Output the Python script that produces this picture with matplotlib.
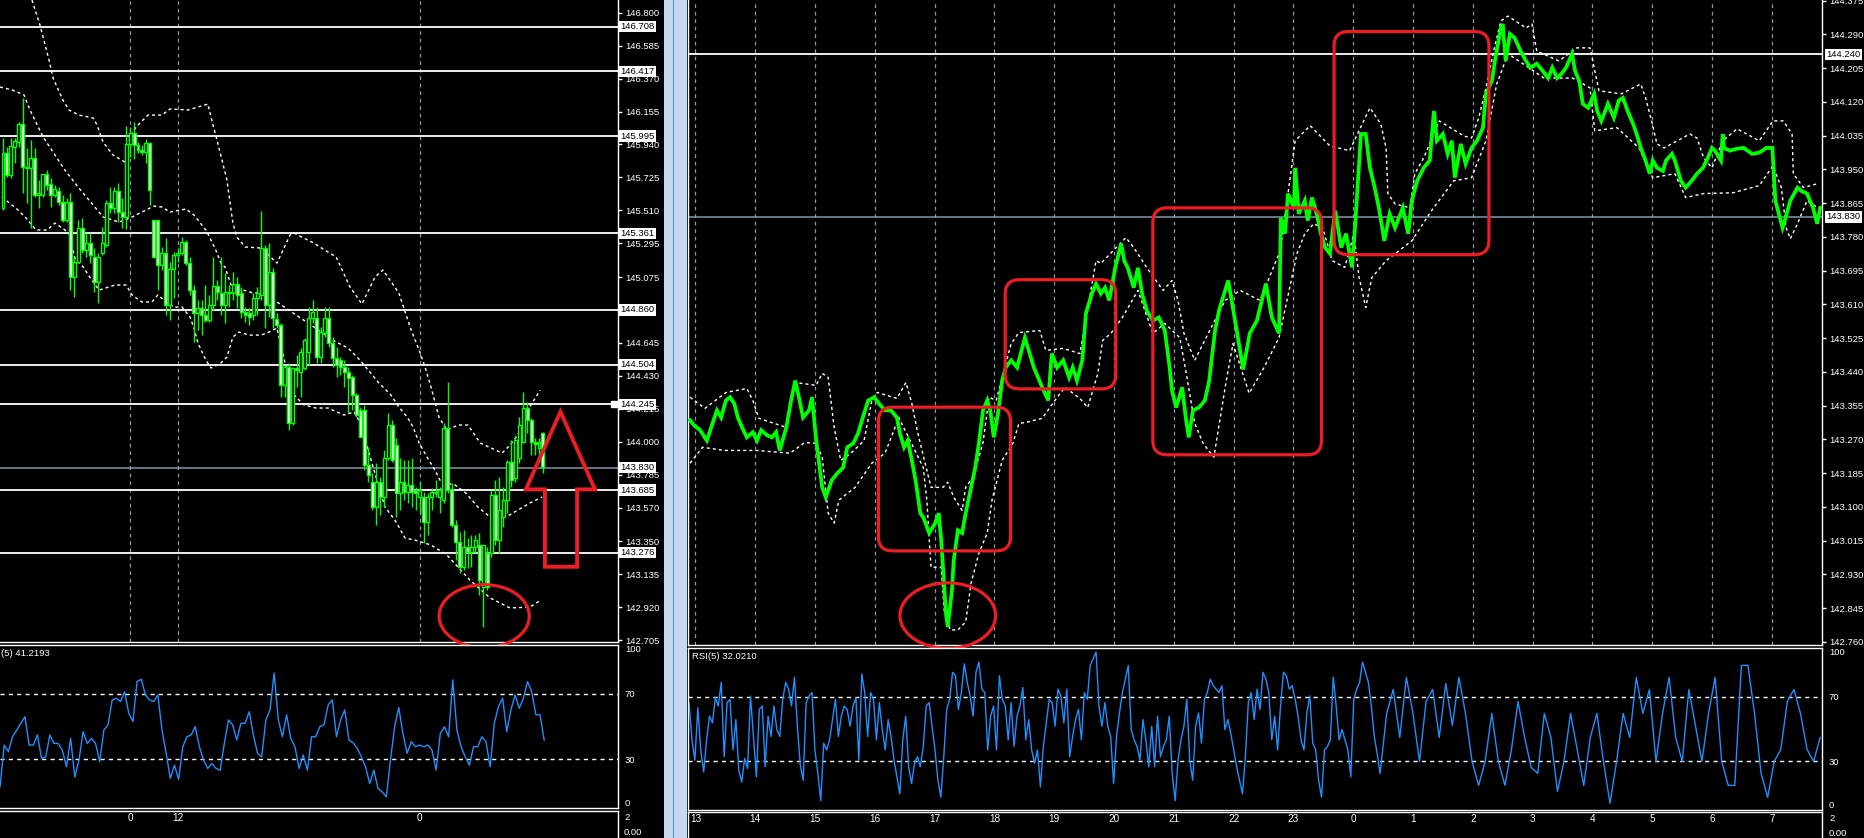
import numpy as np
import matplotlib
matplotlib.use("Agg")
import matplotlib.pyplot as plt
import matplotlib.transforms as mtrans
from matplotlib.patches import Ellipse, FancyBboxPatch, Polygon, Rectangle

plt.rcParams['font.family'] = ['Liberation Sans', 'DejaVu Sans']

# ===================== DATA =====================
# ---- left chart: hourly candles ----
lp_open = [145.525,145.884,145.741,145.924,145.956,146.074,145.793,145.786,145.852,145.610,
           145.610,145.747,145.682,145.610,145.636,145.565,145.447,145.565,145.075,145.173,
           145.395,145.251,145.297,145.206,145.042,145.232,145.284,145.558,145.525,145.636,
           145.499,145.467,145.943,146.015,145.937,145.904,145.891,145.950,145.447,145.447,
           145.153,145.232,144.892,145.127,145.219,145.232,145.303,145.166,144.990,144.840,
           144.873,144.827,144.794,144.892,145.016,144.971,144.892,144.977,144.971,145.029,
           144.971,144.847,144.840,144.827,144.938,144.958,145.264,144.892,145.108,144.801,
           144.762,144.370,144.488,144.122,144.481,144.455,144.481,144.585,144.807,144.807,
           144.553,144.710,144.807,144.644,144.546,144.533,144.488,144.455,144.422,144.305,
           144.207,144.207,143.848,143.737,143.574,143.737,143.639,143.894,144.109,143.978,
           143.665,143.737,143.672,143.717,143.685,143.639,143.639,143.476,143.639,143.672,
           143.639,143.619,144.089,143.691,143.456,143.345,143.182,143.313,143.280,143.313,
           143.326,143.052,143.274,143.274,143.652,143.358,143.509,143.619,143.868,143.763,
           143.894,143.998,144.220,144.142,143.998,143.959,144.057]
lp_high = [145.982,145.924,145.982,145.982,146.087,146.243,145.917,145.969,145.917,145.708,
           145.747,145.773,145.721,145.676,145.662,145.610,145.591,145.623,145.206,145.447,
           145.460,145.362,145.362,145.264,145.232,145.401,145.578,145.662,145.662,145.689,
           145.591,146.061,146.054,146.087,145.956,145.937,145.976,145.956,145.447,145.447,
           145.271,145.330,145.173,145.238,145.264,145.336,145.317,145.206,145.023,144.925,
           144.925,145.023,144.958,145.206,145.055,145.206,145.101,145.023,145.108,145.075,
           145.010,144.879,144.873,144.971,145.010,145.506,145.284,145.297,145.134,144.840,
           144.775,144.501,144.514,144.488,144.566,144.612,144.677,144.879,144.925,144.879,
           144.749,144.879,144.879,144.683,144.618,144.553,144.533,144.488,144.435,144.318,
           144.227,144.240,143.965,143.796,143.861,143.770,143.946,144.187,144.142,144.024,
           143.894,143.881,143.881,143.894,143.704,143.737,143.672,143.665,143.698,143.750,
           143.704,144.122,144.390,143.730,143.489,143.411,143.424,143.372,143.391,143.391,
           143.404,143.326,143.313,143.685,143.750,143.770,143.704,143.881,144.011,144.044,
           144.161,144.324,144.259,144.155,144.024,144.024,144.063]
lp_low = [145.512,145.728,145.721,145.819,145.924,145.623,145.558,145.395,145.597,145.525,
          145.597,145.643,145.532,145.597,145.545,145.434,145.434,144.990,144.944,145.166,
          145.232,145.206,145.166,144.977,144.905,145.219,145.271,145.493,145.493,145.434,
          145.395,145.388,145.858,145.845,145.884,145.871,145.819,145.545,145.199,144.990,
          145.121,144.827,144.794,144.938,145.173,145.219,145.153,144.958,144.651,144.729,
          144.696,144.781,144.781,144.860,144.925,144.827,144.775,144.879,144.925,144.873,
          144.807,144.781,144.762,144.794,144.827,144.925,144.742,144.814,144.742,144.742,
          144.292,144.292,144.076,144.109,144.357,144.292,144.468,144.501,144.775,144.514,
          144.514,144.683,144.618,144.488,144.422,144.435,144.357,144.187,144.207,144.161,
          144.031,143.815,143.737,143.554,143.456,143.522,143.574,143.881,143.868,143.509,
          143.554,143.619,143.600,143.574,143.554,143.535,143.339,143.391,143.554,143.639,
          143.535,143.600,143.665,143.443,143.228,143.143,143.163,143.176,143.182,143.274,
          142.999,142.791,143.032,143.248,143.326,143.274,143.443,143.535,143.704,143.737,
          143.861,143.992,144.057,143.913,143.913,143.900,143.796]
lp_close = [145.884,145.741,145.930,145.963,146.074,145.793,145.786,145.852,145.610,145.623,
            145.747,145.676,145.610,145.649,145.565,145.447,145.565,145.075,145.173,145.395,
            145.251,145.297,145.219,145.042,145.206,145.297,145.558,145.525,145.636,145.499,
            145.467,145.943,146.015,145.937,145.904,145.891,145.950,145.643,145.206,145.153,
            145.232,144.892,145.127,145.219,145.232,145.303,145.166,144.990,144.840,144.873,
            144.827,144.794,144.892,145.016,144.977,144.892,144.977,144.971,145.029,144.958,
            144.847,144.827,144.814,144.938,144.971,145.264,144.892,145.108,144.807,144.762,
            144.370,144.488,144.122,144.481,144.468,144.585,144.664,144.807,144.847,144.553,
            144.716,144.807,144.644,144.546,144.501,144.488,144.455,144.416,144.305,144.174,
            144.031,143.848,143.783,143.574,143.737,143.639,143.894,144.109,143.881,143.665,
            143.737,143.672,143.717,143.672,143.665,143.685,143.476,143.639,143.672,143.665,
            143.685,144.089,143.685,143.456,143.345,143.182,143.313,143.280,143.313,143.358,
            143.097,143.326,143.052,143.652,143.358,143.554,143.619,143.868,143.750,144.011,
            144.109,144.220,144.142,143.998,143.985,143.998,143.835]

# envelope lines (bar index, price)
lp_upper_x = [7.3,9.3,11.6,12.6,15.1,16.6,19.1,22.7,23.7,25.2,27.7,30.7,32.0,33.5,36.5,40.0,42.1,46.6,51.6,
              52.9,53.9,56.4,57.9,58.9,61.0,65.0,69.0,72.3,73.3,77.8,83.9,87.4,90.4,93.7,95.7,99.7,
              102.8,104.8,106.3,107.8,109.8,111.8,114.6,117.1,120.2,125.7,127.7,129.7,131.7,135.3]
lp_upper = [146.883,146.720,146.491,146.374,146.230,146.165,146.132,146.113,146.067,145.956,145.871,
            145.826,145.989,146.054,146.132,146.132,146.172,146.165,146.204,146.067,145.969,145.708,
            145.428,145.336,145.271,145.264,145.166,145.349,145.362,145.303,145.206,145.010,144.899,
            145.075,145.121,144.971,144.729,144.599,144.488,144.357,144.161,144.076,144.109,144.109,
            143.992,143.926,143.978,144.044,144.187,144.337]
lp_mid_x = [-0.76,2.3,5.3,6.8,10.1,13.1,15.6,19.1,22.7,25.2,29.2,32.0,35.0,38.0,40.0,42.1,46.1,48.1,51.1,
            53.4,54.9,55.9,57.9,60.5,63.0,65.0,69.0,76.8,83.9,86.9,89.9,92.4,94.7,97.7,99.7,101.8,
            103.3,104.8,106.8,108.8,110.3,113.9,116.6,119.6,122.7,126.7,129.7,132.7,135.8]
lp_mid = [146.315,146.296,146.263,146.165,145.989,145.871,145.773,145.656,145.545,145.467,145.434,
          145.460,145.499,145.538,145.532,145.499,145.519,145.480,145.382,145.264,145.166,145.140,
          144.990,144.990,144.971,144.971,144.912,144.775,144.651,144.612,144.533,144.455,144.383,
          144.305,144.227,144.161,144.096,143.992,143.900,143.815,143.737,143.717,143.665,143.574,
          143.509,143.509,143.554,143.600,143.639]
lp_lower_x = [-0.25,1.3,3.8,5.8,8.3,11.1,13.1,15.6,16.6,18.1,20.2,22.7,24.2,28.2,31.0,32.5,35.0,37.5,
              39.0,41.1,43.1,45.1,47.1,48.1,49.1,51.1,52.4,54.9,56.4,57.9,59.4,62.0,65.0,67.0,69.0,
              72.8,75.8,78.8,81.9,85.9,88.4,89.9,94.7,96.2,98.7,101.3,103.8,107.8,111.8,117.6,
              122.7,127.7,132.7,135.5]
lp_lower = [145.597,145.565,145.512,145.460,145.382,145.382,145.427,145.382,145.362,145.199,145.140,
            145.042,144.990,145.023,145.023,144.958,144.912,144.912,144.958,144.912,144.879,144.879,
            144.814,144.742,144.644,144.533,144.481,144.514,144.553,144.683,144.716,144.696,144.696,
            144.716,144.742,144.318,144.240,144.220,144.220,144.174,144.194,144.129,143.704,143.574,
            143.489,143.371,143.358,143.326,143.261,143.097,142.980,142.915,142.921,142.967]

lp_levels = [146.708, 146.417, 145.995, 145.361, 144.860, 144.504, 144.245, 143.685, 143.276]
lp_grey_level = 143.830
lp_ticks = [146.800,146.585,146.370,146.155,145.940,145.725,145.510,145.295,145.075,144.860,
            144.645,144.430,144.215,144.000,143.785,143.570,143.350,143.135,142.920,142.705]
lp_time_pos = [32, 44, 105]
lp_time_lbl = ['0', '12', '0']

lp_rsi = [13,38.6,34.5,43.7,47.8,52,56,38.6,38.6,44.8,30.4,31.4,44.8,39.6,39.6,35.5,25.3,42.7,19,29.4,
          46.8,39.6,42.7,39.6,28.4,47.8,51,66.3,67.3,65.3,71.4,58.1,53,77.6,79,69.4,66.3,65.3,69.4,47.8,
          33.5,18.1,26.3,17.5,37.6,43.7,44.8,49.9,37.6,29.4,24.3,27.3,24.3,23.2,39.6,54,51,41.7,52,52,
          59.1,44.8,33.5,31.4,54,60.2,82.7,54,43.7,57.2,42.7,37.6,24.3,32.5,23.2,43.7,43.7,49.9,51,63.2,
          66.3,43.7,54,60.2,41.7,40,36.6,31.4,25.3,15,23.2,12,9.9,6.8,29.4,49.9,61.6,45.8,33.5,40.7,
          37.6,38.6,37.6,38.6,35.5,23.2,45.8,49.9,43.7,78.6,47.8,37.6,31.4,26.3,37.6,37.6,43.7,40.7,
          25.3,52,62.2,67.3,46.8,60.2,69.4,61.2,67.3,77.6,71.4,57.2,57.2,41.7]
lp_rsi_text = '(5) 41.2193'

# ---- right chart: price path (hours from the "13" mark, price) ----
rp_t = [-0.09,-0.02,0.08,0.19,0.26,0.36,0.43,0.51,0.58,0.65,0.71,0.78,0.86,0.96,1.03,1.10,1.20,1.28,1.35,
        1.41,1.52,1.60,1.67,1.73,1.80,1.90,1.95,2.02,2.12,2.18,2.28,2.37,2.47,2.54,2.64,2.72,2.82,2.89,
        2.99,3.07,3.17,3.27,3.37,3.42,3.49,3.55,3.62,3.69,3.76,3.81,3.91,4.01,4.07,4.11,4.14,4.19,4.22,
        4.29,4.32,4.39,4.46,4.52,4.61,4.68,4.74,4.81,4.88,4.93,4.99,5.06,5.13,5.19,5.28,5.38,5.51,5.66,
        5.80,5.90,5.96,6.05,6.15,6.25,6.31,6.38,6.47,6.53,6.63,6.70,6.78,6.85,6.92,7.02,7.12,7.17,7.23,
        7.33,7.40,7.47,7.55,7.65,7.75,7.85,7.93,7.97,8.04,8.14,8.20,8.25,8.32,8.42,8.52,8.59,8.69,8.76,
        8.91,9.06,9.16,9.27,9.39,9.54,9.64,9.76,9.79,9.86,9.91,10.01,10.03,10.09,10.19,10.24,10.31,
        10.39,10.46,10.53,10.61,10.70,10.80,10.88,10.98,11.03,11.13,11.21,11.28,11.36,11.43,11.52,
        11.61,11.70,11.83,11.92,11.98,12.07,12.18,12.28,12.35,12.40,12.50,12.58,12.65,12.70,12.80,
        12.88,12.98,13.07,13.17,13.22,13.32,13.37,13.47,13.50,13.55,13.62,13.70,13.80,13.89,13.96,
        14.07,14.17,14.26,14.33,14.41,14.48,14.56,14.66,14.71,14.78,14.84,14.93,15.03,15.08,15.15,
        15.26,15.36,15.44,15.51,15.59,15.68,15.74,15.81,15.89,15.96,16.01,16.08,16.18,16.23,16.33,
        16.38,16.48,16.56,16.66,16.75,16.85,16.93,17.00,17.05,17.15,17.18,17.20,17.30,17.42,17.53,
        17.67,17.79,17.91,18.01,18.06,18.18,18.24,18.31,18.43,18.49,18.59,18.69,18.76,18.81]
rp_price = [143.318,143.305,143.293,143.267,143.298,143.343,143.325,143.368,143.376,143.360,143.325,
            143.300,143.275,143.288,143.267,143.293,143.280,143.275,143.288,143.242,143.300,143.368,
            143.418,143.376,143.325,143.343,143.376,143.267,143.149,143.124,143.167,143.184,143.199,
            143.250,143.260,143.285,143.335,143.368,143.376,143.360,143.343,143.343,143.325,143.285,
            143.250,143.267,143.217,143.159,143.084,143.074,143.034,143.059,143.084,143.016,142.948,
            142.832,142.797,142.890,142.966,143.041,143.034,143.084,143.149,143.199,143.260,143.343,
            143.368,143.343,143.275,143.335,143.418,143.451,143.469,143.451,143.526,143.451,143.401,
            143.368,143.486,143.451,143.469,143.426,143.451,143.418,143.469,143.587,143.637,143.662,
            143.637,143.652,143.620,143.702,143.763,143.720,143.702,143.652,143.702,143.637,143.594,
            143.569,143.577,143.544,143.451,143.393,143.350,143.401,143.325,143.275,143.343,143.350,
            143.368,143.416,143.544,143.597,143.670,143.537,143.446,143.537,143.569,143.662,143.577,
            143.537,143.828,143.788,143.889,143.853,143.954,143.838,143.871,143.821,143.879,143.838,
            143.788,143.753,143.738,143.846,143.753,143.788,143.703,143.803,144.039,144.039,143.954,
            143.904,143.853,143.770,143.838,143.803,143.853,143.788,143.871,143.921,143.954,143.972,
            144.097,144.022,144.039,143.989,144.022,143.929,144.014,143.964,144.004,144.022,144.055,
            144.140,144.173,144.223,144.306,144.316,144.223,144.291,144.281,144.248,144.223,144.206,
            144.216,144.198,144.180,144.206,144.180,144.190,144.206,144.241,144.198,144.173,144.115,
            144.105,144.140,144.097,144.072,144.115,144.080,144.123,144.130,144.097,144.065,144.039,
            144.004,143.972,143.939,143.972,143.954,143.946,143.972,143.989,143.972,143.921,143.904,
            143.921,143.939,143.954,143.979,144.004,143.997,143.972,144.039,144.004,143.997,144.002,
            144.004,143.989,143.992,144.004,144.004,143.871,143.803,143.833,143.871,143.904,143.896,
            143.889,143.853,143.813,143.853]

rp_upper_t = [-0.09,0.16,0.51,0.86,0.96,1.06,1.52,1.67,2.02,2.12,2.22,2.32,2.43,2.60,2.82,2.95,3.04,
              3.37,3.52,3.62,3.72,3.94,4.14,4.22,4.32,4.46,4.52,4.64,4.81,4.91,5.03,5.28,5.41,5.76,
              5.86,6.15,6.43,6.70,6.78,7.20,7.33,7.55,7.82,7.97,8.07,8.17,8.35,8.60,8.86,9.11,9.44,
              9.78,10.03,10.28,10.61,10.94,11.28,11.46,11.55,11.58,11.70,11.95,12.03,12.18,12.44,
              12.85,12.98,13.10,13.22,13.35,13.47,13.59,13.89,13.99,14.07,14.44,14.74,14.96,15.03,
              15.11,15.48,15.81,15.89,15.99,16.08,16.20,16.63,16.75,16.86,17.00,17.18,17.42,17.79,
              18.02,18.19,18.34,18.36,18.53,18.77]
rp_upper = [143.376,143.348,143.388,143.398,143.368,143.323,143.300,143.413,143.406,143.436,143.426,
            143.300,143.217,143.235,143.267,143.368,143.388,143.373,143.413,143.360,143.285,143.149,
            143.149,143.162,143.124,143.091,143.149,143.174,143.262,143.376,143.368,143.511,143.539,
            143.544,143.494,143.499,143.486,143.720,143.713,143.778,143.753,143.702,143.645,143.670,
            143.620,143.537,143.469,143.544,143.620,143.645,143.620,143.745,144.022,144.060,144.009,
            143.997,144.105,144.065,144.004,143.889,143.863,143.853,143.939,143.979,144.072,144.034,
            144.029,144.080,144.155,144.248,144.324,144.336,144.306,144.316,144.248,144.223,144.256,
            144.256,144.206,144.148,144.140,144.165,144.130,144.072,144.014,144.004,144.039,144.029,
            143.979,143.954,144.022,144.052,144.022,144.072,144.072,144.039,143.939,143.904,143.914]
rp_lower_t = [-0.09,0.12,0.48,1.03,1.58,1.83,2.02,2.12,2.22,2.32,2.40,2.67,2.95,3.17,3.30,3.40,3.59,
              3.81,3.87,3.94,4.11,4.16,4.26,4.39,4.52,4.61,4.74,4.88,4.96,5.13,5.31,5.41,5.54,5.80,
              6.05,6.18,6.43,6.56,6.73,6.81,6.95,7.14,7.40,7.65,7.85,8.10,8.22,8.35,8.49,8.67,8.87,
              8.99,9.26,9.51,9.76,10.06,10.19,10.34,10.49,10.65,10.86,11.01,11.10,11.21,11.31,11.55,
              11.98,12.31,12.68,12.98,13.22,13.40,13.59,13.77,14.19,14.67,14.96,15.04,15.41,15.78,
              16.01,16.38,16.56,16.86,17.35,17.79,18.02,18.16,18.24,18.31,18.43,18.59,18.77]
rp_lower = [143.210,143.250,143.242,143.242,143.235,143.262,143.260,143.225,143.084,143.059,143.117,
            143.149,143.210,143.235,143.285,143.325,143.267,143.199,143.117,142.948,142.948,142.840,
            142.790,142.790,142.810,142.908,142.983,143.034,143.117,143.217,143.260,143.310,143.313,
            143.323,143.376,143.401,143.373,143.350,143.436,143.519,143.537,143.577,143.645,143.537,
            143.562,143.526,143.426,143.310,143.260,143.225,143.411,143.511,143.386,143.451,143.526,
            143.738,143.788,143.813,143.803,143.720,143.703,143.788,143.677,143.602,143.677,143.720,
            143.770,143.846,143.921,143.929,144.022,144.165,144.241,144.223,144.180,144.180,144.155,
            144.047,144.055,144.004,143.929,143.939,143.879,143.889,143.891,143.909,143.959,143.904,
            143.803,143.775,143.813,143.871,143.853]

rp_levels = [144.240]
rp_grey_level = 143.830
rp_ticks = [142.760,142.845,142.930,143.015,143.100,143.185,143.270,143.355,143.440,143.525,143.610,
            143.695,143.780,143.865,143.950,144.035,144.120,144.205,144.290,144.375]
rp_time_lbl = ['13','14','15','16','17','18','19','20','21','22','23','0','1','2','3','4','5','6','7']

rp_rsi_a = [66.3,43.3,30.8,63.1,37.1,23.5,43.3,57.9,53.8,69.4,64.2,78.8,32.9,66.3,68.3,37.1,55.8,24.6,17.3,
            31.9,25.6,70.4,45.4,20.4,62.1,64.2,26.7,57.9,45.4,64.2,49.6,45.4,68.3,78.8,74.6,64.2,81.9,
            51.7,27.7,18.3,66.3,70.4,72.5,37.1,22.5,5.8,41.3,37.1,43.3,55.8,68.3,45.4,57.9,64.2,62.1,
            51.7,64.2,69.4,30.8,84.0,72.5,45.4,72.5,68.3,43.3,66.3,49.6,37.1,55.8,45.4,30.8,20.4,10.0,
            43.3,57.9,26.7,16.3,28.8,32.9,26.7,39.2,64.2,66.3,51.7,37.1,18.3,7.9,32.9,62.1,68.3,85.0,
            82.9,62.1,72.5,90.2,78.8,70.4,57.9,85.0,91.3,74.6,72.5,37.1,57.9,64.2,37.1,82.9,68.3,64.2,
            43.3,66.3,39.2,57.9,64.2,75.6,43.3,55.8,37.1,28.8,37.1,14.2,39.2,53.8,68.3,66.3,51.7,74.6,
            70.4,53.8,74.6,32.9,45.4,55.8,62.1,43.3,72.5,68.3,89.2,93.3,97.5,64.2,51.7,66.3,51.7,45.4,
            16.3,45.4,60.0,72.5,80.8,89.2,49.6,43.3,39.2,30.8,55.8,43.3,26.7,51.7,26.7,57.9,32.9,39.2,
            43.3,57.9,22.5,5.8,30.8,43.3,51.7,68.3,30.8,18.3,51.7,60.0,41.3,68.3,72.5,80.8,76.7,74.6,
            72.5,76.7,49.6,55.8,47.5,37.1,26.7,18.3,10.0,32.9,66.3,72.5,55.8,74.6,62.1,85.0,80.8,72.5,
            43.3,57.9,37.1,64.2,85.0,82.9,74.6,76.7,68.3,57.9,43.3,37.1,60.0,70.4,41.3,37.1,18.3,7.9,
            37.1,39.2,43.3,81.9,64.2,43.3,49.6,43.3,37.1,20.4,68.3,74.6,78.8,91.3,85.0,78.8,64.2,45.4,
            35.0,22.5]
rp_rsi_b = [59.6,74.4,44.8,81.9,59.6,30.0,67.0,74.4,44.8,78.1,52.2,81.9,59.6,30.0,15.2,30.0,59.6,30.0,
            15.2,37.4,67.0,44.8,26.3,22.6,59.6,44.8,11.5,30.0,59.6,37.4,15.2,44.8,59.6,30.0,4.1,30.0,
            59.6,44.8,81.9,59.6,74.4,30.0,59.6,81.9,44.8,30.0,74.4,52.2,30.0,59.6,81.9,30.0,15.2,15.2,
            89.3,89.3,59.6,22.6,7.8,30.0,37.4,67.0,74.4,59.6,37.4,30.0,44.8]
rp_rsi_text = 'RSI(5) 32.0210'

# ===================== STYLE =====================
W, H = 1865, 838
GREEN = '#00ff00'
BLUE = '#1e90ff'
RED = '#ee1c24'
GRID = '#8c96a0'
GREYLINE = '#8796a8'
FS = 6.8

fig = plt.figure(figsize=(W / 100, H / 100), dpi=100, facecolor='black')


def add_ax(x0, y0, x1, y1):
    ax = fig.add_axes([x0 / W, 1 - y1 / H, (x1 - x0) / W, (y1 - y0) / H])
    ax.set_facecolor('black')
    for s in ax.spines.values():
        s.set_color('white')
        s.set_linewidth(1)
    ax.tick_params(colors='white', labelcolor='white', labelsize=FS, length=3, width=1, pad=2)
    ax.set_xticks([])
    return ax


def price_axis(ax, ticks, boxed):
    ax.yaxis.tick_right()
    ax.set_yticks(ticks)
    # tick values that are covered by a boxed level label get no separate text
    ax.set_yticklabels(['' if any(abs(v - b) < 1e-6 for b in boxed) else f'{v:.3f}' for v in ticks])
    ax.spines['left'].set_visible(False)
    ax.spines['top'].set_visible(False)


def level_box(ax, y, grey=False):
    ax.axhline(y, color=GREYLINE if grey else 'white', lw=1.3 if not grey else 1.1, zorder=2)
    tr = mtrans.blended_transform_factory(ax.transAxes, ax.transData)
    ax.text(1.004, y, f'{y:.3f}', transform=tr, color='black', fontsize=FS, va='center', ha='left',
            clip_on=False, zorder=10,
            bbox=dict(boxstyle='square,pad=0.12', fc='white', ec='none'))


def rsi_axis(ax):
    ax.set_ylim(0, 100)
    ax.yaxis.tick_right()
    ax.set_yticks([0, 30, 70, 100])
    ax.set_yticklabels(['0', '30', '70', '100'])
    ax.tick_params(axis='y', length=0, pad=5)
    labs = ax.get_yticklabels()
    labs[0].set_va('bottom')
    labs[-1].set_va('top')
    for lv in (30, 70):
        ax.axhline(lv, color='white', lw=1, ls=(0, (3, 3)))


# ===================== LEFT CHART =====================
axL = add_ax(0, 0, 618, 642)
axL.set_xlim(-0.756, 154.9)
axL.set_ylim(142.693, 146.883)
price_axis(axL, lp_ticks, lp_levels + [lp_grey_level])
for xp in lp_time_pos:
    axL.axvline(xp, color=GRID, lw=0.9, ls=(0, (3, 3)), zorder=1)

for lv in lp_levels:
    level_box(axL, lv)
level_box(axL, lp_grey_level, grey=True)
trL = mtrans.blended_transform_factory(axL.transAxes, axL.transData)
axL.plot([0.993], [144.245], marker='s', ms=4.5, color='white', transform=trL, clip_on=False, zorder=5)

for bx, by in ((lp_upper_x, lp_upper), (lp_mid_x, lp_mid), (lp_lower_x, lp_lower)):
    axL.plot(bx, by, color='white', lw=1, ls=(0, (2.2, 2.2)), zorder=3)

o = np.array(lp_open); c = np.array(lp_close)
hi = np.array(lp_high); lo = np.array(lp_low)
xb = np.arange(len(o))
axL.vlines(xb, lo, hi, color=GREEN, lw=1, zorder=4)
bull = c >= o
axL.bar(xb, np.maximum(np.abs(c - o), 0.004), bottom=np.minimum(o, c), width=0.75,
        color=np.where(bull, 'black', 'white'), edgecolor=GREEN, linewidth=1, zorder=5)

# annotations (left)
axL.add_patch(Ellipse((121.2, 142.862), 22.7, 0.411, fill=False, ec=RED, lw=2.3, clip_on=False, zorder=8))
axL.add_patch(Polygon([(140.4, 144.196), (131.7, 143.689), (136.5, 143.689), (136.5, 143.184),
                       (144.6, 143.184), (144.6, 143.689), (149.1, 143.689)], closed=True,
                      fill=False, ec=RED, lw=2.8, joinstyle='miter', zorder=8))

# left RSI
axLr = add_ax(0, 645, 618, 808)
axLr.set_xlim(-0.756, 154.9)
rsi_axis(axLr)
axLr.spines['left'].set_visible(False)
axLr.plot(np.linspace(-0.75, 136.3, len(lp_rsi)), lp_rsi, color=BLUE, lw=1)
axLr.text(1 / 618, 1 - 4 / 163, lp_rsi_text, transform=axLr.transAxes, color='white',
          fontsize=FS, ha='left', va='top')

# left bottom strip
axLb = add_ax(0, 811, 618, 860)
axLb.set_xlim(-0.756, 154.9)
axLb.set_yticks([])
axLb.spines['left'].set_visible(False)
axLb.spines['bottom'].set_visible(False)
for xp, lb in zip(lp_time_pos, lp_time_lbl):
    axLb.text(xp, 1 - 7 / 49, lb, transform=mtrans.blended_transform_factory(axLb.transData, axLb.transAxes),
              color='white', fontsize=FS + 0.4, ha='center', va='center')
fig.text(624 / W, 1 - 817 / H, '2', color='white', fontsize=FS, va='center')
fig.text(624 / W, 1 - 832 / H, '0.00', color='white', fontsize=FS, va='center')

# splitter between the two chart windows
fig.patches.append(Rectangle((664 / W, 0), 23 / W, 1, transform=fig.transFigure, fc='#c6d9ee', ec='none'))
fig.patches.append(Rectangle((672.5 / W, 0), 1.6 / W, 1, transform=fig.transFigure, fc='#3f93cf', ec='none'))

# ===================== RIGHT CHART =====================
axR = add_ax(688, 0, 1822, 645)
axR.set_xlim(-0.124, 18.84)
axR.set_ylim(142.752, 144.3765)
price_axis(axR, rp_ticks, rp_levels + [rp_grey_level])
axR.spines['left'].set_visible(True)
for k in range(len(rp_time_lbl)):
    axR.axvline(k, color=GRID, lw=0.9, ls=(0, (3, 3)), zorder=1)
for lv in rp_levels:
    level_box(axR, lv)
level_box(axR, rp_grey_level, grey=True)

axR.plot(rp_upper_t, rp_upper, color='white', lw=1, ls=(0, (2.2, 2.2)), zorder=3)
axR.plot(rp_lower_t, rp_lower, color='white', lw=1, ls=(0, (2.2, 2.2)), zorder=3)
axR.plot(rp_t, rp_price, color=GREEN, lw=2.7, zorder=4, solid_joinstyle='miter')


def rbox(ax, x0, x1, y0, y1):
    ax.add_patch(FancyBboxPatch((x0, y0), x1 - x0, y1 - y0,
                                boxstyle='round,pad=0,rounding_size=0.24',
                                mutation_aspect=59.8 / 397.6,
                                fill=False, ec=RED, lw=2.3, zorder=8, clip_on=False))


rbox(axR, 3.06, 5.27, 142.989, 143.351)
rbox(axR, 5.18, 7.03, 143.397, 143.672)
rbox(axR, 7.65, 10.47, 143.231, 143.853)
rbox(axR, 10.68, 13.27, 143.735, 144.297)
axR.add_patch(Ellipse((4.22, 142.826), 1.60, 0.165, fill=False, ec=RED, lw=2.3, clip_on=False, zorder=8))

# right RSI
axRr = add_ax(688, 648, 1822, 810)
axRr.set_xlim(-0.124, 18.84)
rsi_axis(axRr)
ta = np.linspace(-0.107, 11.45, len(rp_rsi_a))
tb = np.linspace(11.45, 18.81, len(rp_rsi_b) + 1)[1:]
axRr.plot(np.concatenate([ta, tb]), rp_rsi_a + rp_rsi_b, color=BLUE, lw=1)
axRr.text(4 / 1134, 1 - 4 / 162, rp_rsi_text, transform=axRr.transAxes, color='white',
          fontsize=FS, ha='left', va='top')

# right bottom strip
axRb = add_ax(688, 812, 1822, 860)
axRb.set_xlim(-0.124, 18.84)
axRb.set_yticks([])
axRb.spines['bottom'].set_visible(False)
for k, lb in enumerate(rp_time_lbl):
    axRb.text(k, 1 - 7 / 48, lb, transform=mtrans.blended_transform_factory(axRb.transData, axRb.transAxes),
              color='white', fontsize=FS + 0.4, ha='center', va='center')
fig.text(1829 / W, 1 - 818 / H, '2', color='white', fontsize=FS, va='center')
fig.text(1829 / W, 1 - 833 / H, '0.00', color='white', fontsize=FS, va='center')

fig.savefig('out.png', dpi=100, facecolor='black')
